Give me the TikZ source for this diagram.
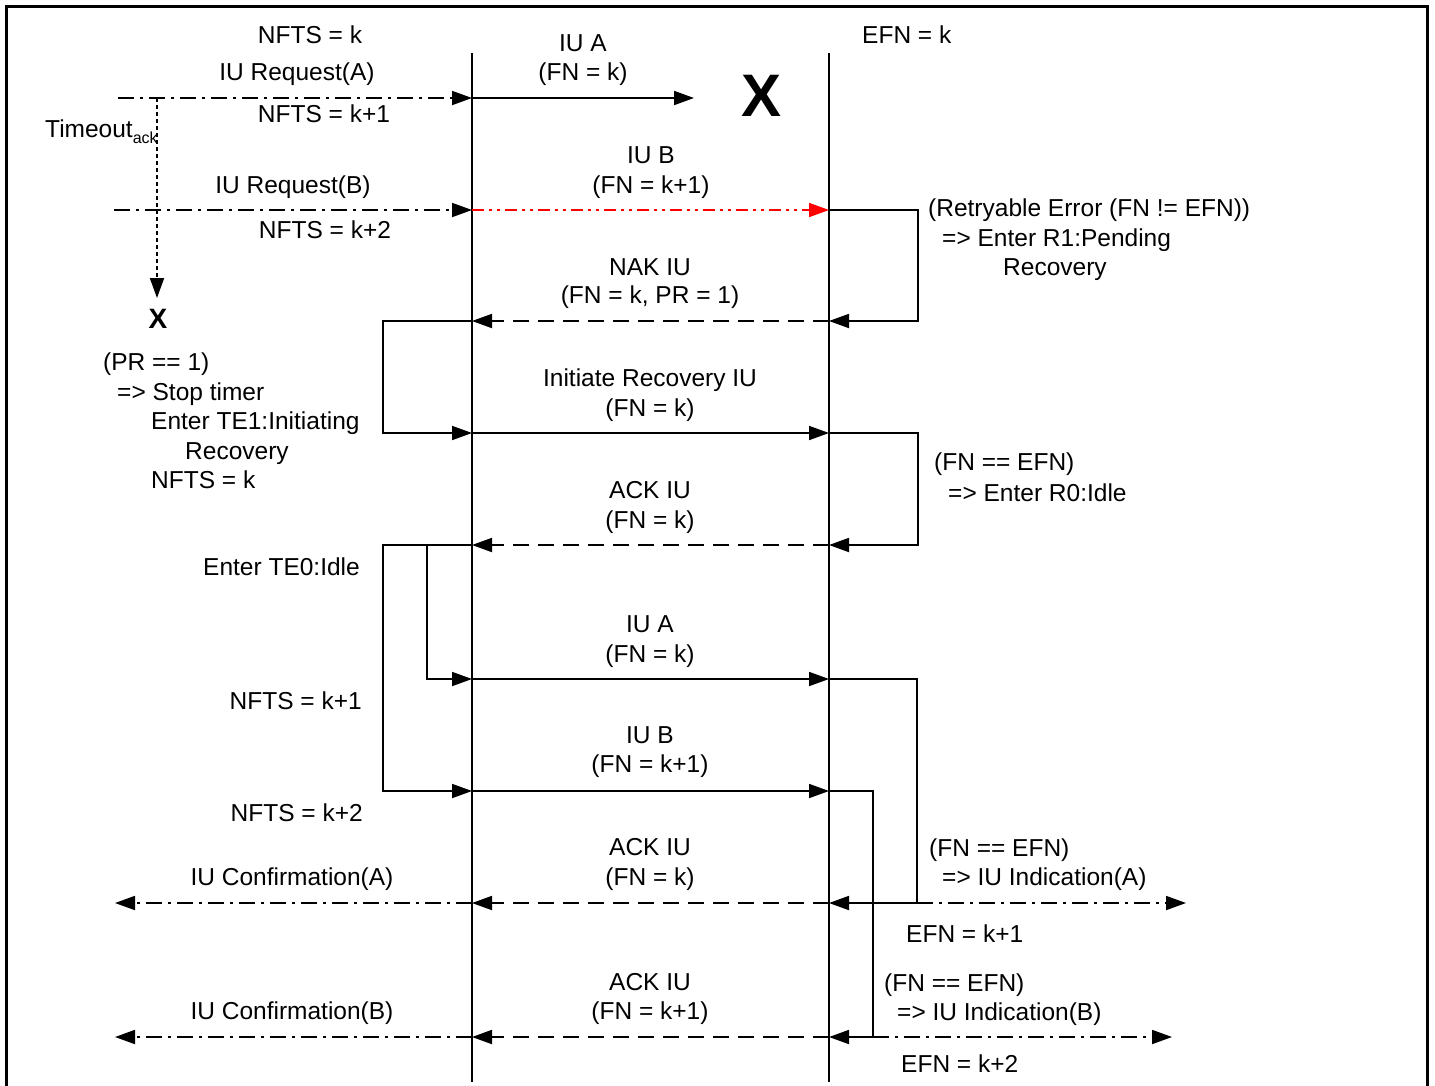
\documentclass[tikz,border=0pt]{standalone}
\usepackage{fontspec}
\setmainfont{Liberation Sans}
\usetikzlibrary{arrows.meta}
\tikzset{
  lbl/.style={font=\fontsize{24.5}{28}\selectfont, inner sep=0pt},
  tip/.style={-{Triangle[length=20pt,width=14pt]}},
  life/.style={line width=1.8pt},
  msg/.style={line width=1.8pt, tip},
  ackline/.style={msg, dash pattern=on 16pt off 9pt},
  primline/.style={msg, dash pattern=on 16pt off 6pt on 3pt off 6pt},
  errline/.style={line width=1.8pt, red, dash pattern=on 12pt off 5pt on 3pt off 5pt on 3pt off 5pt,
    -{Triangle[length=20pt,width=14pt,fill=red]}},
  timerline/.style={line width=1.8pt, dash pattern=on 4pt off 3pt, tip},
  lost/.style={inner sep=0pt, font=\bfseries}
}
\begin{document}
\begin{tikzpicture}[x=1pt,y=-1pt]
\useasboundingbox (0,0) rectangle (1435,1085);
\clip (0,0) rectangle (1435,1085);
\fill[white] (0,0) rectangle (1435,1085);
% outer frame
\draw[line width=3pt] (6,6) rectangle (1427,1110);

% lifelines
\coordinate (Atop) at (472,53);  \coordinate (Abot) at (472,1082);
\coordinate (Btop) at (829,53);  \coordinate (Bbot) at (829,1082);
\draw[life] (Atop) -- (Abot);
\draw[life] (Btop) -- (Bbot);

% row 1: IU Request(A), IU A lost
\coordinate (r1s) at (118,98); \coordinate (r1a) at (472,98); \coordinate (r1e) at (694,98);
\draw[primline] (r1s) -- (r1a);
\draw[msg] (r1a) -- (r1e);
\node[lost, font=\fontsize{60}{60}\bfseries\selectfont] (lostA) at (762,96) {X};
\node[lbl, anchor=base] (nfts0) at (310,43) {NFTS = k};
\node[lbl, anchor=base] (reqA) at (297,80) {IU Request(A)};
\node[lbl, anchor=base] (nfts1) at (324,122) {NFTS = k+1};
\node[lbl, anchor=base] (iuA1) at (583,51) {IU A};
\node[lbl, anchor=base] (fnA1) at (583,80) {(FN = k)};
\node[lbl, anchor=base west] (efn0) at (862,43) {EFN = k};

% timeout timer
\coordinate (t0) at (157,98); \coordinate (t1) at (157,298);
\draw[timerline] (t0) -- (t1);
\node[lost, font=\fontsize{28}{28}\bfseries\selectfont] (tx) at (158,319) {X};
\node[lbl, anchor=base west] (tmo) at (45,137) {Timeout\raisebox{-6pt}{\fontsize{16}{16}\selectfont ack}};

% row 2: IU Request(B), IU B with error
\coordinate (r2s) at (114,210); \coordinate (r2a) at (472,210); \coordinate (r2b) at (829,210);
\coordinate (r2r) at (918,210); \coordinate (r3r) at (918,321);
\draw[primline] (r2s) -- (r2a);
\draw[errline] (r2a) -- (r2b);
\node[lbl, anchor=base] (reqB) at (293,193) {IU Request(B)};
\node[lbl, anchor=base] (nfts2) at (325,238) {NFTS = k+2};
\node[lbl, anchor=base] (iuB1) at (651,163) {IU B};
\node[lbl, anchor=base] (fnB1) at (651,193) {(FN = k+1)};
\node[lbl, anchor=base west] (rerr1) at (928,216) {(Retryable Error (FN != EFN))};
\node[lbl, anchor=base west] (rerr2) at (942,246) {=> Enter R1:Pending};
\node[lbl, anchor=base west] (rerr3) at (1003,275) {Recovery};

% row 3: NAK IU
\coordinate (r3a) at (472,321); \coordinate (r3b) at (829,321);
\draw[msg] (r2b) -- (r2r) -- (r3r) -- (r3b);
\draw[ackline] (r3b) -- (r3a);
\node[lbl, anchor=base] (nak1) at (650,275) {NAK IU};
\node[lbl, anchor=base] (nak2) at (650,303) {(FN = k, PR = 1)};
\coordinate (r3l) at (383,321); \coordinate (r4l) at (383,433);
\node[lbl, anchor=base west] (pr1) at (103,370) {(PR == 1)};
\node[lbl, anchor=base west] (pr2) at (117,400) {=> Stop timer};
\node[lbl, anchor=base west] (pr3) at (151,429) {Enter TE1:Initiating};
\node[lbl, anchor=base west] (pr4) at (185,459) {Recovery};
\node[lbl, anchor=base west] (pr5) at (151,488) {NFTS = k};

% row 4: Initiate Recovery IU
\coordinate (r4a) at (472,433); \coordinate (r4b) at (829,433);
\coordinate (r4r) at (918,433); \coordinate (r5r) at (918,545);
\draw[msg] (r3a) -- (r3l) -- (r4l) -- (r4a);
\draw[msg] (r4a) -- (r4b);
\node[lbl, anchor=base] (ir1) at (650,386) {Initiate Recovery IU};
\node[lbl, anchor=base] (ir2) at (650,416) {(FN = k)};
\node[lbl, anchor=base west] (idle1) at (934,470) {(FN == EFN)};
\node[lbl, anchor=base west] (idle2) at (948,501) {=> Enter R0:Idle};

% row 5: ACK IU
\coordinate (r5a) at (472,545); \coordinate (r5b) at (829,545);
\draw[msg] (r4b) -- (r4r) -- (r5r) -- (r5b);
\draw[ackline] (r5b) -- (r5a);
\node[lbl, anchor=base] (ack1) at (650,498) {ACK IU};
\node[lbl, anchor=base] (ack2) at (650,528) {(FN = k)};
\node[lbl, anchor=base east] (te0) at (360,575) {Enter TE0:Idle};

% rows 6 and 7: IU A and IU B resent
\coordinate (r5o) at (383,545); \coordinate (r5i) at (427,545);
\coordinate (r6i) at (427,679); \coordinate (r7o) at (383,791);
\coordinate (r6a) at (472,679); \coordinate (r6b) at (829,679);
\coordinate (r7a) at (472,791); \coordinate (r7b) at (829,791);
\draw[msg] (r5a) -- (r5i) -- (r6i) -- (r6a);
\draw[msg] (r5i) -- (r5o) -- (r7o) -- (r7a);
\draw[msg] (r6a) -- (r6b);
\draw[msg] (r7a) -- (r7b);
\node[lbl, anchor=base] (iuA2) at (650,632) {IU A};
\node[lbl, anchor=base] (fnA2) at (650,662) {(FN = k)};
\node[lbl, anchor=base] (iuB2) at (650,743) {IU B};
\node[lbl, anchor=base] (fnB2) at (650,772) {(FN = k+1)};
\node[lbl, anchor=base east] (nfts3) at (362,709) {NFTS = k+1};
\node[lbl, anchor=base east] (nfts4) at (363,821) {NFTS = k+2};

% row 8: ACK IU for A
\coordinate (r6r) at (917,679); \coordinate (r8r) at (917,903);
\coordinate (r8a) at (472,903); \coordinate (r8b) at (829,903);
\coordinate (r8l) at (115,903); \coordinate (r8e) at (1186,903);
\draw[msg] (r6b) -- (r6r) -- (r8r) -- (r8b);
\draw[ackline] (r8b) -- (r8a);
\draw[primline] (r8a) -- (r8l);
\draw[primline] (r8r) -- (r8e);
\node[lbl, anchor=base] (ack3) at (650,855) {ACK IU};
\node[lbl, anchor=base] (ack4) at (650,885) {(FN = k)};
\node[lbl, anchor=base] (cnfA) at (292,885) {IU Confirmation(A)};
\node[lbl, anchor=base west] (indA1) at (929,856) {(FN == EFN)};
\node[lbl, anchor=base west] (indA2) at (942,885) {=> IU Indication(A)};
\node[lbl, anchor=base west] (efn1) at (906,942) {EFN = k+1};

% row 9: ACK IU for B
\coordinate (r7r) at (873,791); \coordinate (r9r) at (873,1037);
\coordinate (r9a) at (472,1037); \coordinate (r9b) at (829,1037);
\coordinate (r9l) at (115,1037); \coordinate (r9e) at (1172,1037);
\draw[msg] (r7b) -- (r7r) -- (r9r) -- (r9b);
\draw[ackline] (r9b) -- (r9a);
\draw[primline] (r9a) -- (r9l);
\draw[primline] (r9r) -- (r9e);
\node[lbl, anchor=base] (ack5) at (650,990) {ACK IU};
\node[lbl, anchor=base] (ack6) at (650,1019) {(FN = k+1)};
\node[lbl, anchor=base] (cnfB) at (292,1019) {IU Confirmation(B)};
\node[lbl, anchor=base west] (indB1) at (884,991) {(FN == EFN)};
\node[lbl, anchor=base west] (indB2) at (897,1020) {=> IU Indication(B)};
\node[lbl, anchor=base west] (efn2) at (901,1072) {EFN = k+2};
\end{tikzpicture}
\end{document}
